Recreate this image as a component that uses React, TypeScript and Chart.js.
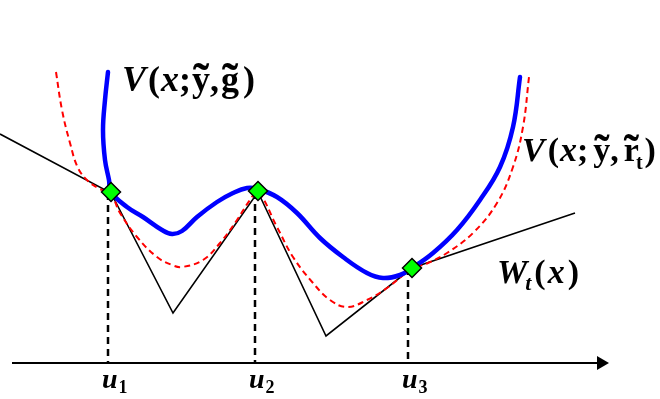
import React, { useEffect, useRef } from "react";
import { Chart, registerables } from "chart.js";

Chart.register(...registerables);

// Diagram coordinates: x across (0..660), y downward (0..399)
const blueX = [108, 105, 103, 105, 109, 111, 127, 143, 162, 172, 182, 197, 217, 233, 247, 258, 277, 297, 320, 343, 367, 383, 400, 412, 433, 457, 480, 500, 513, 520];
const blueY = [72, 100, 130, 160, 180, 192, 207, 217, 230, 234, 231, 217, 202, 193, 188, 189, 197, 213, 238, 257, 273, 278, 275, 268, 253, 230, 200, 167, 127, 77];

const redX = [56, 62, 70, 78, 88, 98, 111, 120, 137, 157, 172, 182, 203, 220, 237, 250, 258, 277, 293, 313, 330, 347, 367, 387, 412, 428, 447, 473, 497, 513, 523, 529];
const redY = [72, 110, 143, 168, 181, 188, 195, 213, 237, 257, 265, 267, 260, 243, 220, 200, 192, 227, 257, 283, 300, 307, 300, 288, 269, 263, 253, 233, 203, 167, 127, 77];

const wX = [0, 111, 173, 258, 326, 412, 575];
const wY = [134, 193, 313, 192, 336, 268, 213];

const knotX = [111, 258, 412];
const knotY = [192, 191, 268];

const uX = [108, 255, 408];
const uTop = [193, 192, 268];
const axisY = 363;
const axisStart = 12;
const axisEnd = 600;
const arrowTipX = 601;

const uLabels = ["1", "2", "3"];

const zip = (xs: number[], ys: number[]) => xs.map((x, i) => ({ x, y: ys[i] }));

type Run = { t: string; size: number; italic?: boolean; dx?: number; dy?: number; tilde?: boolean };

const SERIF = '"Liberation Serif", "Times New Roman", serif';
const fontOf = (s: number, italic?: boolean) => `bold ${italic ? "italic " : ""}${s}px ${SERIF}`;

function drawRuns(ctx: CanvasRenderingContext2D, x: number, y: number, runs: Run[]) {
  let cx = x;
  for (const r of runs) {
    cx += r.dx || 0;
    ctx.font = fontOf(r.size, r.italic);
    ctx.textAlign = "left";
    ctx.textBaseline = "alphabetic";
    const w = ctx.measureText(r.t).width;
    ctx.fillText(r.t, cx, y + (r.dy || 0));
    if (r.tilde) {
      ctx.font = fontOf(r.size * 1.35);
      const tw = ctx.measureText("\u02DC").width;
      ctx.fillText("\u02DC", cx + (w - tw) / 2, y + (r.dy || 0) + r.size * 0.17);
    }
    cx += w;
  }
}

const labelPlugin = {
  id: "labels",
  afterDatasetsDraw(chart: any) {
    const ctx = chart.ctx as CanvasRenderingContext2D;
    const sx = chart.scales.x;
    const sy = chart.scales.y;
    const px = (v: number) => sx.getPixelForValue(v);
    const py = (v: number) => sy.getPixelForValue(v);
    ctx.save();
    ctx.fillStyle = "#000";
    drawRuns(ctx, px(122), py(91), [
      { t: "V", size: 36, italic: true },
      { t: "(", size: 36, dx: 2 },
      { t: "x", size: 36, italic: true, dx: 1 },
      { t: ";", size: 36 },
      { t: "y", size: 36, tilde: true, dx: 1 },
      { t: ",", size: 36 },
      { t: "g", size: 36, tilde: true, dx: 2 },
      { t: ")", size: 36, dx: 4 },
    ]);
    drawRuns(ctx, px(522), py(161), [
      { t: "V", size: 34, italic: true },
      { t: "(", size: 34, dx: 3 },
      { t: "x", size: 34, italic: true, dx: 1 },
      { t: ";", size: 34 },
      { t: "y", size: 34, tilde: true, dx: 5 },
      { t: ",", size: 34 },
      { t: "r", size: 34, tilde: true, dx: 5 },
      { t: "t", size: 20, dy: 8, dx: -3 },
      { t: ")", size: 34, dx: 2 },
    ]);
    drawRuns(ctx, px(497), py(283), [
      { t: "W", size: 34, italic: true },
      { t: "t", size: 22, italic: true, dy: 7, dx: -2 },
      { t: "(", size: 34, dx: 3 },
      { t: "x", size: 34, italic: true, dx: 2 },
      { t: ")", size: 34, dx: 3 },
    ]);
    uX.forEach((u, i) => {
      drawRuns(ctx, px(u - 6), py(388), [
        { t: "u", size: 28, italic: true },
        { t: uLabels[i], size: 18, dy: 5, dx: 1 },
      ]);
    });
    ctx.restore();
  },
};

export default function App() {
  const ref = useRef<HTMLCanvasElement | null>(null);
  useEffect(() => {
    if (!ref.current) return;
    const datasets: any[] = [];
    uX.forEach((u, i) => {
      datasets.push({
        data: [{ x: u, y: uTop[i] }, { x: u, y: axisY }],
        showLine: true,
        borderColor: "#000",
        borderWidth: 2.5,
        borderDash: [7, 5],
        pointRadius: 0,
        order: 6,
      });
    });
    datasets.push({
      data: [{ x: axisStart, y: axisY }, { x: axisEnd, y: axisY }],
      showLine: true,
      borderColor: "#000",
      borderWidth: 2,
      pointRadius: 0,
      order: 5,
    });
    datasets.push({
      data: [{ x: arrowTipX, y: axisY }],
      pointStyle: "triangle",
      rotation: 90,
      pointRadius: 8,
      backgroundColor: "#000",
      borderColor: "#000",
      borderWidth: 0,
      order: 5,
    });
    datasets.push({
      data: zip(wX, wY),
      showLine: true,
      borderColor: "#000",
      borderWidth: 1.6,
      pointRadius: 0,
      tension: 0,
      order: 4,
    });
    datasets.push({
      data: zip(redX, redY),
      showLine: true,
      borderColor: "#ff0000",
      borderWidth: 2,
      borderDash: [6, 4],
      pointRadius: 0,
      tension: 0.4,
      order: 3,
    });
    datasets.push({
      data: zip(blueX, blueY),
      showLine: true,
      borderColor: "#0000ff",
      borderWidth: 4.5,
      pointRadius: 0,
      tension: 0.4,
      borderCapStyle: "round",
      borderJoinStyle: "round",
      order: 2,
    });
    datasets.push({
      data: zip(knotX, knotY),
      showLine: false,
      pointStyle: "rectRot",
      pointRadius: 9.5,
      backgroundColor: "#00ff00",
      borderColor: "#000",
      borderWidth: 1.5,
      order: 1,
    });
    const chart = new Chart(ref.current, {
      type: "scatter",
      data: { datasets },
      options: {
        animation: false,
        responsive: false,
        layout: { padding: 0, autoPadding: false },
        plugins: { legend: { display: false }, tooltip: { enabled: false } },
        events: [],
        scales: {
          x: { type: "linear", min: 0, max: 660, display: false },
          y: { type: "linear", min: 0, max: 399, reverse: true, display: false },
        },
      },
      plugins: [labelPlugin],
    });
    return () => chart.destroy();
  }, []);
  return (
    <div style={{ position: "fixed", left: 0, top: 0, width: 660, height: 399, background: "#fff" }}>
      <canvas ref={ref} width={660} height={399} />
    </div>
  );
}
